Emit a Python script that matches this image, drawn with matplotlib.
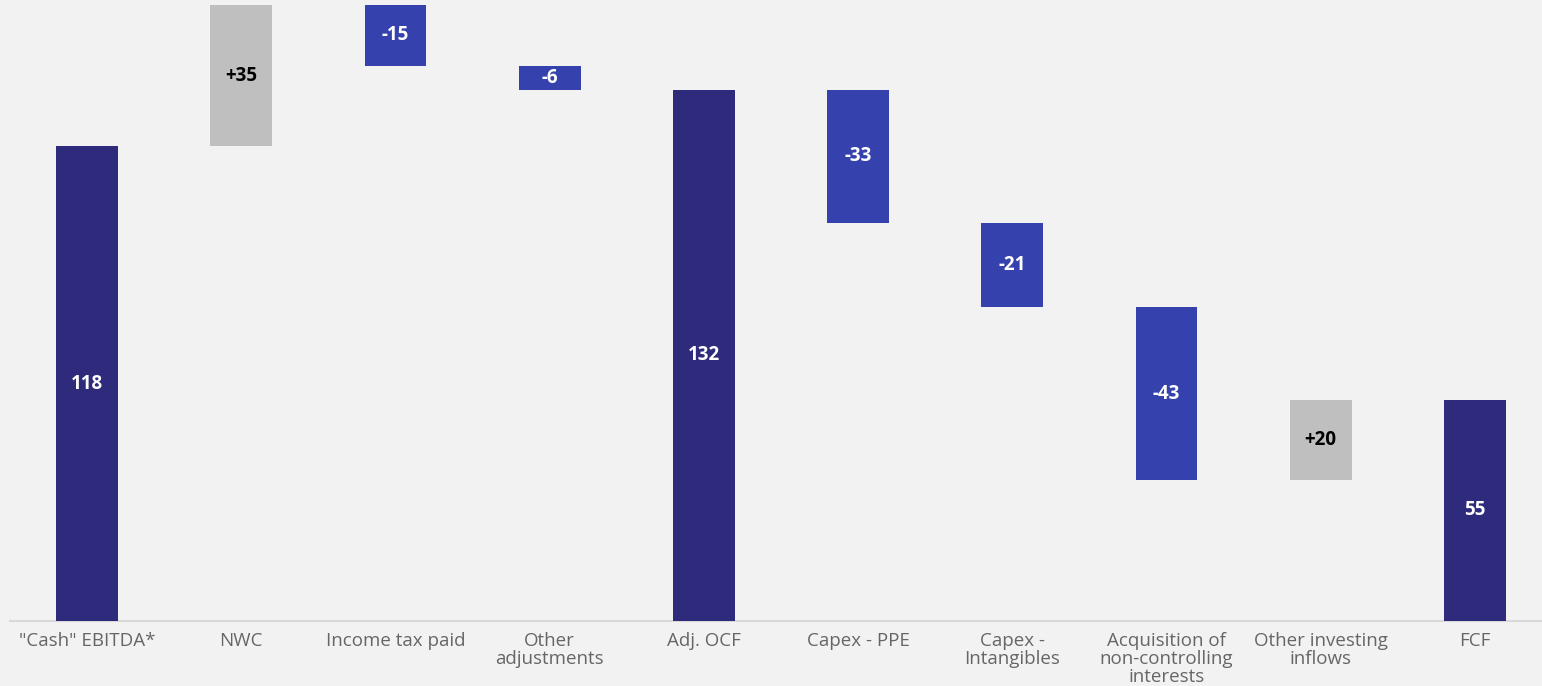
import numpy as np
import matplotlib.pyplot as plt

categories = ['"Cash" EBITDA*', 'NWC', 'Income tax paid', 'Other\nadjustments',
              'Adj. OCF', 'Capex - PPE', 'Capex -\nIntangibles',
              'Acquisition of\nnon-controlling\ninterests', 'Other investing\ninflows', 'FCF']
values = [118, 35, -15, -6, 132, -33, -21, -43, 20, 55]
is_total = [True, False, False, False, True, False, False, False, False, True]

C_TOTAL = '#2e2a7c'
C_NEG = '#3542ad'
C_POS = '#bfbfbf'
BG = '#f2f2f2'

# running waterfall: totals start from 0, steps float on the previous level
bottoms, heights, colors, labels, label_colors = [], [], [], [], []
level = 0
for v, tot in zip(values, is_total):
    if tot:
        bottoms.append(0)
        heights.append(v)
        level = v
        colors.append(C_TOTAL)
        labels.append(f'{v}')
        label_colors.append('white')
    else:
        new = level + v
        bottoms.append(min(level, new))
        heights.append(abs(v))
        level = new
        if v < 0:
            colors.append(C_NEG)
            labels.append(f'{v}')
            label_colors.append('white')
        else:
            colors.append(C_POS)
            labels.append(f'+{v}')
            label_colors.append('black')

fig = plt.figure(figsize=(15.42, 6.86), dpi=100, facecolor=BG)
ax = fig.add_axes([10 / 1542, 1 - 621 / 686, 1 - 10 / 1542, 621 / 686])
ax.set_facecolor(BG)

x = np.arange(len(categories))
ax.bar(x, heights, bottom=bottoms, width=0.40, color=colors, zorder=3)

for xi, b, h, lab, lc in zip(x, bottoms, heights, labels, label_colors):
    ax.text(xi, b + h / 2, lab, ha='center', va='center', color=lc,
            fontsize=13.5, fontweight='bold', family='Open Sans', zorder=4)

ax.set_xlim(-0.5, 9.435)
ax.set_ylim(0, 154.3)
ax.set_xticks(x)
ax.set_xticklabels(categories, fontsize=13.5, color='#666666', family='Open Sans',
                   linespacing=1.0, va='top')
ax.tick_params(axis='x', length=0, pad=8)
ax.set_yticks([])
for s in ['top', 'right', 'left']:
    ax.spines[s].set_visible(False)
ax.spines['bottom'].set_color('#d9d9d9')
ax.spines['bottom'].set_linewidth(1.5)

fig.savefig('out.png', dpi=100, facecolor=BG)
